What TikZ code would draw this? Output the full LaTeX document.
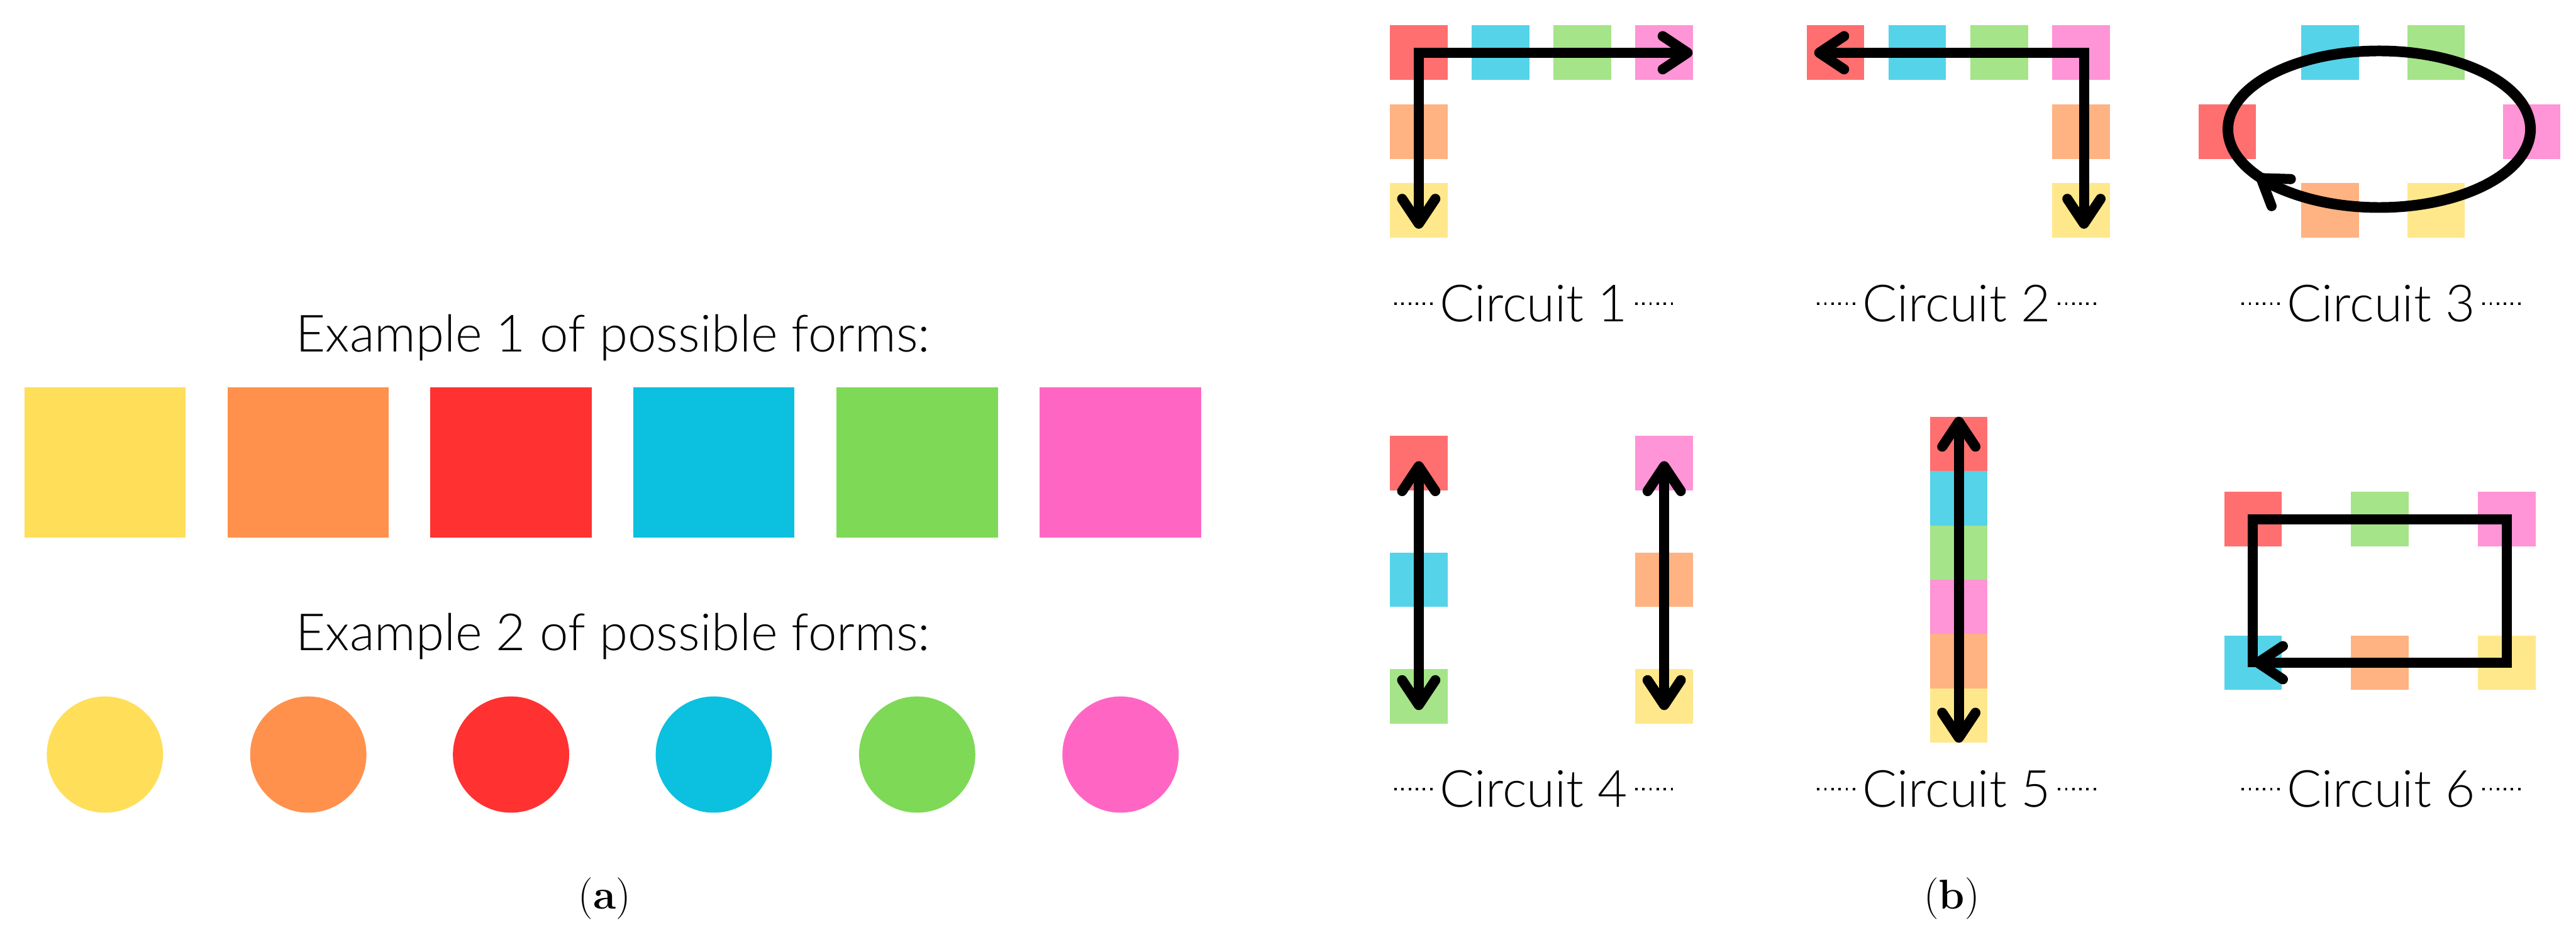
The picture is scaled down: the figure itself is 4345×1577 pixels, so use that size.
\documentclass[tikz,border=0pt]{standalone}
\usepackage{fontspec}
\newfontfamily\lato{Lato Light}
\usetikzlibrary{arrows.meta,calc}
\definecolor{cY}{HTML}{FFDE59}
\definecolor{cO}{HTML}{FF914D}
\definecolor{cR}{HTML}{FF3131}
\definecolor{cC}{HTML}{0CC0DF}
\definecolor{cG}{HTML}{7ED957}
\definecolor{cP}{HTML}{FF66C4}
\begin{document}
\begin{tikzpicture}[x=0.01cm, y=-0.01cm,
 bigsq/.style={minimum width=2.72cm, minimum height=2.54cm, inner sep=0pt, outer sep=0pt},
 bigdot/.style={circle, minimum size=1.96cm, inner sep=0pt, outer sep=0pt},
 sq/.style={minimum width=0.97cm, minimum height=0.92cm, inner sep=0pt, outer sep=0pt},
 sqt/.style={minimum width=0.97cm, minimum height=0.9167cm, inner sep=0pt, outer sep=0pt},
 lbl/.style={font=\lato\fontsize{24.6}{30}\selectfont, inner sep=0pt, anchor=base},
 dotline/.style={line width=0.04cm, dash pattern=on 0.04cm off 0.08cm},
 arr/.style={line width=0.17cm, >={Straight Barb[length=0.42cm, width=0.56cm, round]}},
]
\fill[white] (0,0) rectangle (4345,1577);
\useasboundingbox (0,0) rectangle (4345,1577);

% ---------- (a) ----------
\node[lbl] (ex1) at (1034,593) {Example 1 of possible forms:};
\node[lbl] (ex2) at (1034,1097) {Example 2 of possible forms:};
\foreach \n/\x/\c in {Y/177/cY, O/520/cO, R/862/cR, C/1204/cC, G/1547/cG, P/1890/cP} {
  \node[bigsq, fill=\c] (sq\n) at (\x,780) {};
  \node[bigdot, fill=\c] (ci\n) at (\x,1273) {};
}
\node[font=\fontsize{20}{24}\selectfont, anchor=base, inner sep=0pt] (capa) at (1020,1533) {(\textbf{a})};
\node[font=\fontsize{20}{24}\selectfont, anchor=base, inner sep=0pt] (capb) at (3292,1533) {(\textbf{b})};

% ---------- Circuit 1 ----------
\node[sq, fill=cR!70] (c1r) at (2393,89) {};
\node[sq, fill=cC!70] (c1c) at (2531,89) {};
\node[sq, fill=cG!70] (c1g) at (2669,89) {};
\node[sq, fill=cP!70] (c1p) at (2807,89) {};
\node[sq, fill=cO!70] (c1o) at (2393,222) {};
\node[sq, fill=cY!70] (c1y) at (2393,355) {};
\coordinate (t1h) at (2855,89);
\coordinate (t1v) at (2393,386);
\draw[arr,<->] (t1h) -- (c1r.center) -- (t1v);

% ---------- Circuit 2 ----------
\node[sq, fill=cR!70] (c2r) at (3096,89) {};
\node[sq, fill=cC!70] (c2c) at (3234,89) {};
\node[sq, fill=cG!70] (c2g) at (3372,89) {};
\node[sq, fill=cP!70] (c2p) at (3510,89) {};
\node[sq, fill=cO!70] (c2o) at (3510,222) {};
\node[sq, fill=cY!70] (c2y) at (3510,355) {};
\coordinate (t2h) at (3060,89);
\coordinate (k2) at (3515,89);
\coordinate (t2v) at (3515,386);
\draw[arr,<->] (t2h) -- (k2) -- (t2v);

% ---------- Circuit 3 ----------
\node[sq, fill=cC!70] (c3c) at (3930,89) {};
\node[sq, fill=cG!70] (c3g) at (4109,89) {};
\node[sq, fill=cR!70] (c3r) at (3757,222) {};
\node[sq, fill=cP!70] (c3p) at (4270,222) {};
\node[sq, fill=cO!70] (c3o) at (3930,355) {};
\node[sq, fill=cY!70] (c3y) at (4109,355) {};
\coordinate (e3) at (4013,218);
\draw[line width=0.18cm] (e3) ellipse [x radius=2.55cm, y radius=1.32cm];
\draw[arr,->] ([shift={(e3)}]250:2.55cm and 1.32cm) arc[start angle=250, end angle=216, x radius=2.55cm, y radius=1.32cm];

% ---------- Circuit 4 ----------
\node[sq, fill=cR!70] (c4r) at (2393,781) {};
\node[sq, fill=cC!70] (c4c) at (2393,978) {};
\node[sq, fill=cG!70] (c4g) at (2393,1175) {};
\node[sq, fill=cP!70] (c4p) at (2807,781) {};
\node[sq, fill=cO!70] (c4o) at (2807,978) {};
\node[sq, fill=cY!70] (c4y) at (2807,1175) {};
\coordinate (t4a) at (2393,778);
\coordinate (t4b) at (2393,1198);
\coordinate (t4c) at (2807,778);
\coordinate (t4d) at (2807,1198);
\draw[arr,<->] (t4a) -- (t4b);
\draw[arr,<->] (t4c) -- (t4d);

% ---------- Circuit 5 ----------
\foreach \n/\i/\c in {r/0/cR, c/1/cC, g/2/cG, p/3/cP, o/4/cO, y/5/cY} {
  \node[sqt, fill=\c!70] (c5\n) at (3304,{703+91.67*(\i+0.5)}) {};
}
\coordinate (t5a) at (3304,703);
\coordinate (t5b) at (3304,1253);
\draw[arr,<->] (t5a) -- (t5b);

% ---------- Circuit 6 ----------
\node[sq, fill=cR!70] (c6r) at (3800,876) {};
\node[sq, fill=cG!70] (c6g) at (4014,876) {};
\node[sq, fill=cP!70] (c6p) at (4228,876) {};
\node[sq, fill=cC!70] (c6c) at (3800,1118) {};
\node[sq, fill=cO!70] (c6o) at (4014,1118) {};
\node[sq, fill=cY!70] (c6y) at (4228,1118) {};
\draw[arr,->, line join=miter] ([yshift=-0.08cm]c6c.center) -- (c6r.center) -- (c6p.center) -- (c6y.center) -- (c6c.center);

% ---------- labels ----------
\foreach \n/\x/\y/\t in {l1/2587/543/1, l2/3300/543/2, l3/4016/543/3, l4/2587/1362/4, l5/3300/1362/5, l6/4016/1362/6} {
  \node[lbl] (\n) at (\x,\y) {Circuit \t};
  \draw[dotline] ($(\n.base west)+(-12,-31)$) -- ++(-66,0);
  \draw[dotline] ($(\n.base east)+(12,-31)$) -- ++(66,0);
}
\end{tikzpicture}
\end{document}
